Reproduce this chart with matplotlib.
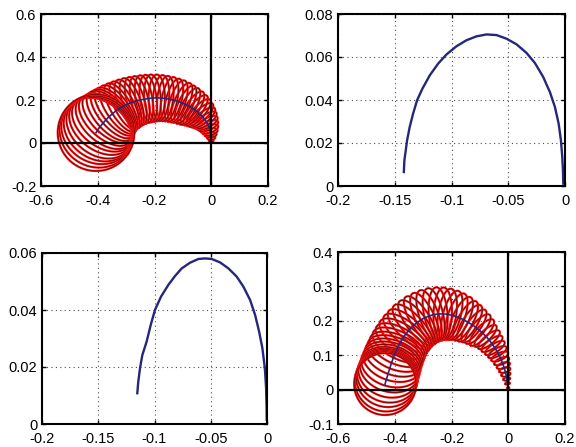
import numpy as np
import matplotlib
matplotlib.use("Agg")
import matplotlib.pyplot as plt

plt.rcParams['font.family'] = ['Liberation Sans', 'DejaVu Sans']

# ---- tube 1 (upper left): centre line, cross-section radius, cross-section openness
tube1_x = [0.000, 0.000, -0.001, -0.003, -0.006, -0.010, -0.015, -0.021, -0.028, -0.036,
           -0.045, -0.055, -0.066, -0.078, -0.091, -0.104, -0.118, -0.132, -0.147, -0.162,
           -0.177, -0.192, -0.207, -0.222, -0.237, -0.252, -0.266, -0.280, -0.293, -0.306,
           -0.318, -0.329, -0.339, -0.348, -0.357, -0.365, -0.372, -0.379, -0.385, -0.390,
           -0.395, -0.399, -0.402, -0.404, -0.406]
tube1_y = [0.010, 0.024, 0.038, 0.052, 0.066, 0.080, 0.093, 0.106, 0.118, 0.130,
           0.141, 0.152, 0.162, 0.171, 0.179, 0.187, 0.194, 0.199, 0.204, 0.207,
           0.209, 0.210, 0.209, 0.207, 0.204, 0.200, 0.195, 0.189, 0.182, 0.174,
           0.165, 0.156, 0.146, 0.136, 0.126, 0.116, 0.106, 0.096, 0.087, 0.078,
           0.070, 0.063, 0.057, 0.052, 0.048]
tube1_r = [0.008, 0.014, 0.020, 0.026, 0.032, 0.037, 0.042, 0.047, 0.052, 0.057,
           0.061, 0.065, 0.068, 0.071, 0.073, 0.075, 0.077, 0.078, 0.079, 0.080,
           0.081, 0.082, 0.083, 0.084, 0.085, 0.086, 0.088, 0.090, 0.092, 0.094,
           0.097, 0.100, 0.103, 0.106, 0.109, 0.112, 0.115, 0.118, 0.121, 0.124,
           0.127, 0.129, 0.131, 0.133, 0.135]
tube1_k = [0.50, 0.48, 0.46, 0.44, 0.42, 0.40, 0.39, 0.38, 0.37, 0.36,
           0.35, 0.35, 0.35, 0.35, 0.35, 0.35, 0.35, 0.35, 0.35, 0.35,
           0.35, 0.35, 0.35, 0.35, 0.35, 0.35, 0.35, 0.35, 0.36, 0.37,
           0.38, 0.40, 0.42, 0.44, 0.47, 0.50, 0.54, 0.58, 0.63, 0.68,
           0.74, 0.80, 0.86, 0.93, 1.00]

# ---- tube 2 (lower right)
tube2_x = [0.000, -0.002, -0.005, -0.008, -0.012, -0.017, -0.023, -0.030, -0.038, -0.047,
           -0.057, -0.068, -0.080, -0.093, -0.107, -0.121, -0.136, -0.151, -0.167, -0.183,
           -0.199, -0.215, -0.231, -0.247, -0.263, -0.279, -0.294, -0.309, -0.323, -0.336,
           -0.348, -0.359, -0.369, -0.378, -0.386, -0.393, -0.399, -0.405, -0.410, -0.415,
           -0.419, -0.423, -0.426, -0.429, -0.432, -0.434]
tube2_y = [0.005, 0.018, 0.031, 0.044, 0.057, 0.070, 0.083, 0.096, 0.109, 0.121,
           0.133, 0.145, 0.156, 0.166, 0.176, 0.185, 0.193, 0.200, 0.207, 0.212,
           0.216, 0.219, 0.220, 0.220, 0.218, 0.214, 0.209, 0.202, 0.194, 0.185,
           0.175, 0.164, 0.153, 0.141, 0.129, 0.117, 0.105, 0.093, 0.081, 0.069,
           0.058, 0.048, 0.039, 0.031, 0.023, 0.016]
tube2_r = [0.004, 0.008, 0.012, 0.016, 0.020, 0.024, 0.028, 0.032, 0.036, 0.040,
           0.044, 0.048, 0.052, 0.060, 0.065, 0.069, 0.074, 0.078, 0.082, 0.086,
           0.089, 0.091, 0.093, 0.094, 0.095, 0.096, 0.096, 0.097, 0.097, 0.098,
           0.098, 0.099, 0.099, 0.100, 0.101, 0.102, 0.103, 0.104, 0.105, 0.106,
           0.106, 0.107, 0.108, 0.108, 0.109, 0.109]
tube2_k = [0.50, 0.50, 0.48, 0.46, 0.44, 0.42, 0.40, 0.39, 0.38, 0.37,
           0.36, 0.35, 0.35, 0.35, 0.35, 0.35, 0.35, 0.35, 0.35, 0.35,
           0.35, 0.35, 0.35, 0.35, 0.35, 0.35, 0.35, 0.35, 0.36, 0.37,
           0.38, 0.40, 0.42, 0.44, 0.47, 0.50, 0.54, 0.58, 0.63, 0.68,
           0.73, 0.79, 0.85, 0.91, 0.96, 1.00]

# ---- arch curves
arch1_x = [-0.1420, -0.1415, -0.1403, -0.1391, -0.1368, -0.1338, -0.1303, -0.1256,
           -0.1191, -0.1118, -0.1044, -0.0956, -0.0868, -0.0780, -0.0691, -0.0603,
           -0.0515, -0.0427, -0.0339, -0.0265, -0.0192, -0.0133, -0.0089, -0.0056,
           -0.0036, -0.0024, -0.0018, -0.0015]
arch1_y = [0.0065, 0.0120, 0.0166, 0.0213, 0.0275, 0.0337, 0.0399, 0.0453,
           0.0515, 0.0569, 0.0612, 0.0650, 0.0678, 0.0696, 0.0705, 0.0702,
           0.0685, 0.0659, 0.0619, 0.0572, 0.0507, 0.0437, 0.0368, 0.0290,
           0.0213, 0.0135, 0.0073, 0.0011]

arch2_x = [-0.1153, -0.1144, -0.1129, -0.1108, -0.1070, -0.1034, -0.0996, -0.0942,
           -0.0877, -0.0818, -0.0758, -0.0684, -0.0610, -0.0551, -0.0491, -0.0417,
           -0.0343, -0.0269, -0.0210, -0.0150, -0.0106, -0.0070, -0.0041, -0.0019,
           -0.0008, -0.0004, -0.0002]
arch2_y = [0.0108, 0.0149, 0.0195, 0.0242, 0.0289, 0.0347, 0.0400, 0.0447,
           0.0488, 0.0519, 0.0546, 0.0566, 0.0579, 0.0581, 0.0579, 0.0567,
           0.0546, 0.0517, 0.0482, 0.0435, 0.0383, 0.0324, 0.0266, 0.0195,
           0.0125, 0.0067, 0.0014]

# ---- axis ticks
tube_xticks = [-0.6, -0.4, -0.2, 0, 0.2]
tube_xlabels = ['-0.6', '-0.4', '-0.2', '0', '0.2']
tube1_yticks = [-0.2, 0, 0.2, 0.4, 0.6]
tube1_ylabels = ['-0.2', '0', '0.2', '0.4', '0.6']
tube2_yticks = [-0.1, 0, 0.1, 0.2, 0.3, 0.4]
tube2_ylabels = ['-0.1', '0', '0.1', '0.2', '0.3', '0.4']
arch_xticks = [-0.2, -0.15, -0.1, -0.05, 0]
arch_xlabels = ['-0.2', '-0.15', '-0.1', '-0.05', '0']
arch1_yticks = [0, 0.02, 0.04, 0.06, 0.08]
arch1_ylabels = ['0', '0.02', '0.04', '0.06', '0.08']
arch2_yticks = [0, 0.02, 0.04, 0.06]
arch2_ylabels = ['0', '0.02', '0.04', '0.06']

W, H = 576, 447
fig = plt.figure(figsize=(W / 100, H / 100), dpi=100)

pos_tl = [41 / W, (H - 186) / H, 227 / W, 172 / H]
pos_tr = [338 / W, (H - 186) / H, 227 / W, 172 / H]
pos_bl = [42 / W, (H - 424) / H, 225 / W, 171 / H]
pos_br = [338 / W, (H - 424) / H, 227 / W, 172 / H]

NAVY = '#26267a'


def style(ax, xlim, ylim, xt, xl, yt, yl):
    ax.set_xlim(*xlim)
    ax.set_ylim(*ylim)
    ax.set_xticks(xt)
    ax.set_xticklabels(xl)
    ax.set_yticks(yt)
    ax.set_yticklabels(yl)
    ax.tick_params(direction='in', length=3, width=1.0, top=True, right=True,
                   labelsize=10.5)
    ax.tick_params(axis='x', pad=6)
    ax.tick_params(axis='y', pad=3.5)
    ax.grid(True, linestyle=(0, (1, 3)), color='0.3', linewidth=0.8)
    for s in ax.spines.values():
        s.set_linewidth(1.5)
        s.set_color('black')


def draw_tube(ax, pos, xlim, ylim, cx, cy, r, k):
    # work in pixel-proportional units so cross sections stay perpendicular on screen
    sx = pos[2] * W / (xlim[1] - xlim[0])
    sy = pos[3] * H / (ylim[1] - ylim[0])
    X = np.asarray(cx) * sx
    Y = np.asarray(cy) * sy
    tx, ty = np.gradient(X), np.gradient(Y)
    norm = np.hypot(tx, ty)
    tx, ty = tx / norm, ty / norm
    nx, ny = -ty, tx
    R = np.asarray(r) * sx
    th = np.linspace(0, 2 * np.pi, 120)
    for i in range(len(X)):
        px = X[i] + R[i] * np.cos(th) * nx[i] + R[i] * k[i] * np.sin(th) * tx[i]
        py = Y[i] + R[i] * np.cos(th) * ny[i] + R[i] * k[i] * np.sin(th) * ty[i]
        ax.plot(px / sx, py / sy, color='#ff1212', lw=1.6, zorder=3)
        ax.plot(px / sx, py / sy, color='black', lw=0.5, alpha=0.7, zorder=3)
    ax.plot(cx, cy, color=NAVY, lw=1.2, zorder=4)


# upper left
ax1 = fig.add_axes(pos_tl)
style(ax1, (-0.6, 0.2), (-0.2, 0.6), tube_xticks, tube_xlabels, tube1_yticks, tube1_ylabels)
ax1.axhline(0, color='black', lw=1.6, zorder=5)
ax1.axvline(0, color='black', lw=1.6, zorder=5)
draw_tube(ax1, pos_tl, (-0.6, 0.2), (-0.2, 0.6), tube1_x, tube1_y, tube1_r, tube1_k)

# upper right
ax2 = fig.add_axes(pos_tr)
style(ax2, (-0.2, 0), (0, 0.08), arch_xticks, arch_xlabels, arch1_yticks, arch1_ylabels)
ax2.plot(arch1_x, arch1_y, color=NAVY, lw=1.7)

# lower left
ax3 = fig.add_axes(pos_bl)
style(ax3, (-0.2, 0), (0, 0.06), arch_xticks, arch_xlabels, arch2_yticks, arch2_ylabels)
ax3.plot(arch2_x, arch2_y, color=NAVY, lw=1.7)

# lower right
ax4 = fig.add_axes(pos_br)
style(ax4, (-0.6, 0.2), (-0.1, 0.4), tube_xticks, tube_xlabels, tube2_yticks, tube2_ylabels)
ax4.axhline(0, color='black', lw=1.6, zorder=5)
ax4.axvline(0, color='black', lw=1.6, zorder=5)
draw_tube(ax4, pos_br, (-0.6, 0.2), (-0.1, 0.4), tube2_x, tube2_y, tube2_r, tube2_k)

fig.savefig('out.png', dpi=100)
